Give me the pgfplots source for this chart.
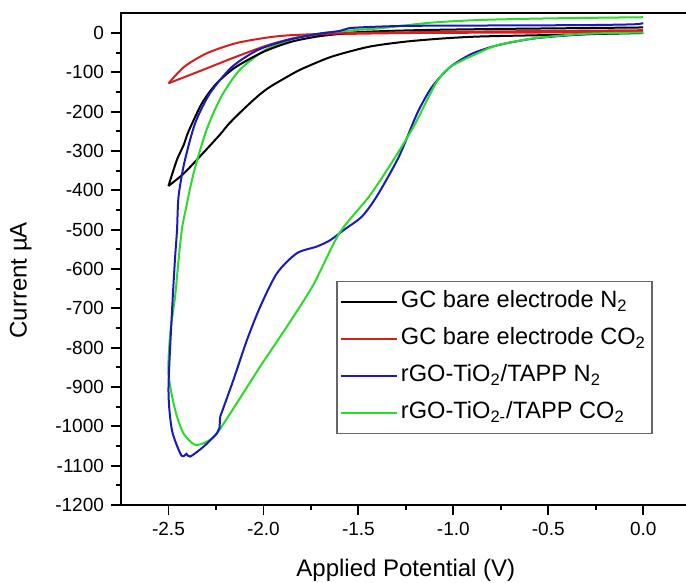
\documentclass[border=0pt]{standalone}
\usepackage{fontspec}
\setmainfont{Liberation Sans}
\usepackage{pgfplots}
\pgfplotsset{compat=1.18}
\definecolor{cblack}{RGB}{0,0,0}
\definecolor{cred}{RGB}{215,30,30}
\definecolor{cblue}{RGB}{25,25,190}
\definecolor{cgreen}{RGB}{40,220,40}
\begin{document}
\begin{tikzpicture}
\path[use as bounding box] (0,0) rectangle (343pt,291.5pt);
\begin{axis}[
  at={(60.5pt,39pt)}, anchor=south west,
  scale only axis, width=284.85pt, height=245.85pt,
  xmin=-2.75, xmax=0.25, ymin=-1200, ymax=50,
  xtick={-2.5,-2,-1.5,-1,-0.5,0},
  xticklabels={-2.5,-2.0,-1.5,-1.0,-0.5,0.0},
  ytick={-1200,-1100,-1000,-900,-800,-700,-600,-500,-400,-300,-200,-100,0},
  yticklabels={-1200,-1100,-1000,-900,-800,-700,-600,-500,-400,-300,-200,-100,0},
  minor x tick num=1, minor y tick num=1,
  xtick pos=bottom, ytick pos=left, tick align=outside,
  major tick length=5pt, minor tick length=2.5pt,
  axis line style={line width=1pt},
  every tick/.style={line width=0.9pt, black},
  ticklabel style={font=\fontsize{9.5}{11}\selectfont},
  label style={font=\fontsize{12}{14}\selectfont},
  xlabel={Applied Potential (V)},
  ylabel={Current µA},
  xlabel style={at={(axis description cs:0.5,-0.1464)}, anchor=base},
  ylabel style={at={(axis description cs:-0.176,0.457)}, anchor=center},
  legend style={at={(axis description cs:0.378,0.455)}, anchor=north west,
    draw=black!60, line width=0.6pt, font=\fontsize{11.8}{13}\selectfont,
    row sep=4pt, inner xsep=1.5pt, inner ysep=3pt,
    nodes={inner sep=1.5pt, text height=8.5pt, text depth=3pt}},
  legend cell align=left,
  legend image code/.code={\draw[#1, line width=1pt] (0pt,0pt) -- (28pt,0pt);},
  every axis plot/.append style={line width=1pt, smooth, tension=0.45},
]
\addplot[cblack] coordinates {
(0,0) (-0.47,-5) (-0.86,-9) (-1.055,-14) (-1.25,-22) (-1.444,-35) (-1.639,-60)
(-1.772,-86) (-1.833,-100) (-1.965,-137) (-2.028,-160) (-2.105,-194) (-2.184,-232)
(-2.228,-258) (-2.342,-318) (-2.421,-358) (-2.5,-389)};
\addlegendentry{GC bare electrode N\textsubscript{2}}
\addplot[cred] coordinates {
(0,3) (-0.6,1) (-1.2,0) (-1.6,-3) (-1.795,-9) (-1.97,-30) (-2.163,-64) (-2.33,-96)
(-2.5,-128)};
\addlegendentry{GC bare electrode CO\textsubscript{2}}
\addplot[cblue] coordinates {
(0,0) (-0.273,-2.5) (-0.566,-13.5) (-0.76,-30.5) (-0.898,-52) (-1.015,-86)
(-1.112,-137) (-1.19,-204) (-1.287,-315) (-1.404,-416) (-1.482,-467) (-1.577,-501)
(-1.649,-527) (-1.719,-543) (-1.824,-560) (-1.929,-611) (-2.017,-696) (-2.087,-781)
(-2.158,-882) (-2.228,-976)};
\addlegendentry{rGO-TiO\textsubscript{2}/TAPP N\textsubscript{2}}
\addplot[cgreen] coordinates {
(0,1) (-0.3,-2) (-0.566,-13) (-0.76,-30) (-0.851,-47) (-1.015,-86) (-1.092,-128)
(-1.209,-238) (-1.326,-331) (-1.444,-416) (-1.6,-509) (-1.737,-640) (-1.877,-747)
(-2.017,-848) (-2.14,-941) (-2.245,-1018) (-2.298,-1039) (-2.36,-1047)
(-2.421,-1018) (-2.465,-958) (-2.5,-865) (-2.49,-760) (-2.465,-670) (-2.447,-577)
(-2.43,-501) (-2.417,-467) (-2.368,-357) (-2.30,-247) (-2.222,-162) (-2.125,-94)
(-1.989,-43) (-1.833,-13.5) (-1.696,-1) (-1.5,8) (-1.384,12) (-1.121,26)
(-0.859,33) (-0.5,37) (0,40)};
\addlegendentry{rGO-TiO\textsubscript{2-}/TAPP CO\textsubscript{2}}
% return branches
\addplot[cblack, forget plot] coordinates {
(-2.5,-389) (-2.456,-323) (-2.42,-285) (-2.395,-251) (-2.324,-179) (-2.25,-130)
(-2.15,-88) (-2.0,-48) (-1.85,-22) (-1.7,-8) (-1.5,2) (-1.2,7) (-0.8,10)
(-0.4,12) (0,14)};
\addplot[cred, forget plot] coordinates {
(-2.5,-128) (-2.417,-86) (-2.30,-52) (-2.145,-26) (-1.97,-11) (-1.83,-5) (-1.5,0)
(-1.0,3) (-0.5,5) (0,7)};
\addplot[cblue, forget plot] coordinates {
(-2.228,-976) (-2.232,-1005) (-2.245,-1018) (-2.316,-1052)
(-2.386,-1077) (-2.405,-1070) (-2.42,-1076) (-2.438,-1069) (-2.482,-1009)
(-2.5,-908) (-2.482,-713) (-2.466,-577) (-2.455,-501) (-2.447,-416) (-2.417,-331)
(-2.36,-230) (-2.281,-153) (-2.165,-86) (-2.028,-43) (-1.872,-18) (-1.716,-2.5)
(-1.6,5) (-1.55,12) (-1.45,15) (-1.25,18) (-0.8,19) (-0.3,20) (-0.05,22) (0,25)};
\end{axis}
\end{tikzpicture}
\end{document}
